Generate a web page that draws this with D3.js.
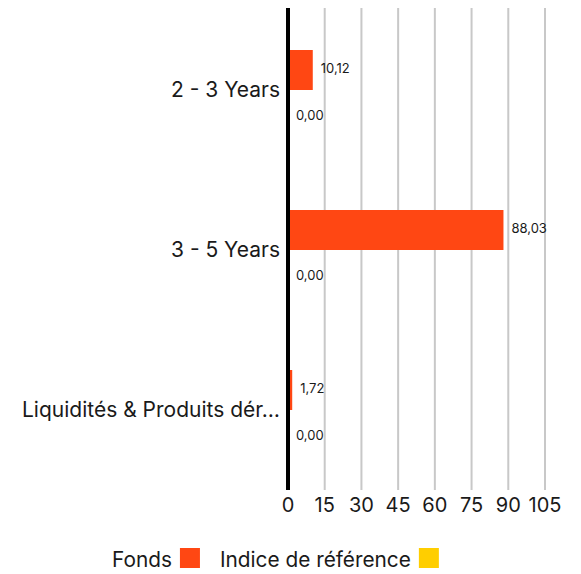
<!DOCTYPE html>
<html>
<head>
<meta charset="utf-8">
<script src="https://cdn.jsdelivr.net/npm/d3@7"></script>
<style>
  body { margin: 0; background: #fff; }
  text { font-family: "Inter", "Noto Sans", sans-serif; fill: #1a1a1a; }
</style>
</head>
<body>
<div id="chart"></div>
<script>
// data
var categories = ["2 - 3 Years", "3 - 5 Years", "Liquidités & Produits dér…"];
var fonds = [10.12, 88.03, 1.72];
var indice = [0.00, 0.00, 0.00];
var series = ["Fonds", "Indice de référence"];
var colors = ["#ff4713", "#ffce00"];
var ticks = [0, 15, 30, 45, 60, 75, 90, 105];

var width = 581, height = 574;
var mLeft = 288, mRight = 545, mTop = 10, mBottom = 490;

var svg = d3.select("#chart").append("svg")
  .attr("width", width)
  .attr("height", height);

var x = d3.scaleLinear().domain([0, 105]).range([mLeft, mRight]);
var y = d3.scaleBand().domain(categories).range([mTop, mBottom])
  .paddingInner(0.5).paddingOuter(0.25);
var y1 = d3.scaleBand().domain(series).range([0, y.bandwidth()]);
var labelShift = [-1.5, 5];

// grid
svg.append("g").selectAll("line")
  .data(ticks.slice(1))
  .enter().append("line")
  .attr("x1", d => x(d)).attr("x2", d => x(d))
  .attr("y1", 8).attr("y2", mBottom)
  .attr("stroke", "#c8c8c8").attr("stroke-width", 2);

// tick labels
svg.append("g").selectAll("text")
  .data(ticks)
  .enter().append("text")
  .attr("x", d => x(d))
  .attr("y", 512)
  .attr("text-anchor", "middle")
  .style("font-size", "20px")
  .text(d => d);

// bars
var rows = categories.map((c, i) => ({cat: c, vals: [fonds[i], indice[i]]}));
var grp = svg.append("g").selectAll("g")
  .data(rows)
  .enter().append("g")
  .attr("transform", d => "translate(0," + y(d.cat) + ")");

grp.selectAll("rect")
  .data(d => d.vals.map((v, j) => ({s: series[j], v: v, j: j})))
  .enter().append("rect")
  .attr("x", x(0))
  .attr("y", d => y1(d.s))
  .attr("width", d => x(d.v) - x(0))
  .attr("height", y1.bandwidth())
  .attr("fill", d => colors[d.j]);

grp.selectAll("text.val")
  .data(d => d.vals.map((v, j) => ({s: series[j], v: v, j: j})))
  .enter().append("text")
  .attr("class", "val")
  .attr("x", d => x(d.v) + 8)
  .attr("y", d => y1(d.s) + y1.bandwidth() / 2 + labelShift[d.j])
  .attr("dy", "0.35em")
  .style("font-size", "13px")
  .text(d => d3.format(".2f")(d.v).replace(".", ","));

// category labels
svg.append("g").selectAll("text")
  .data(categories)
  .enter().append("text")
  .attr("x", 280)
  .attr("y", d => y(d) + y.bandwidth() / 2)
  .attr("dy", "0.35em")
  .attr("text-anchor", "end")
  .style("font-size", "21px")
  .text(d => d);

// axis line
svg.append("line")
  .attr("x1", x(0)).attr("x2", x(0))
  .attr("y1", 8).attr("y2", mBottom)
  .attr("stroke", "#000").attr("stroke-width", 4);

// legend
var lg = svg.append("g");
var lx = 112;
series.forEach(function(s, i) {
  var t = lg.append("text")
    .attr("x", lx).attr("y", 567)
    .style("font-size", "20.8px")
    .text(s);
  var w = t.node().getComputedTextLength();
  lg.append("rect")
    .attr("x", lx + w + 8).attr("y", 548)
    .attr("width", 20).attr("height", 20)
    .attr("fill", colors[i]);
  lx = lx + w + 8 + 20 + 20;
});
</script>
</body>
</html>
